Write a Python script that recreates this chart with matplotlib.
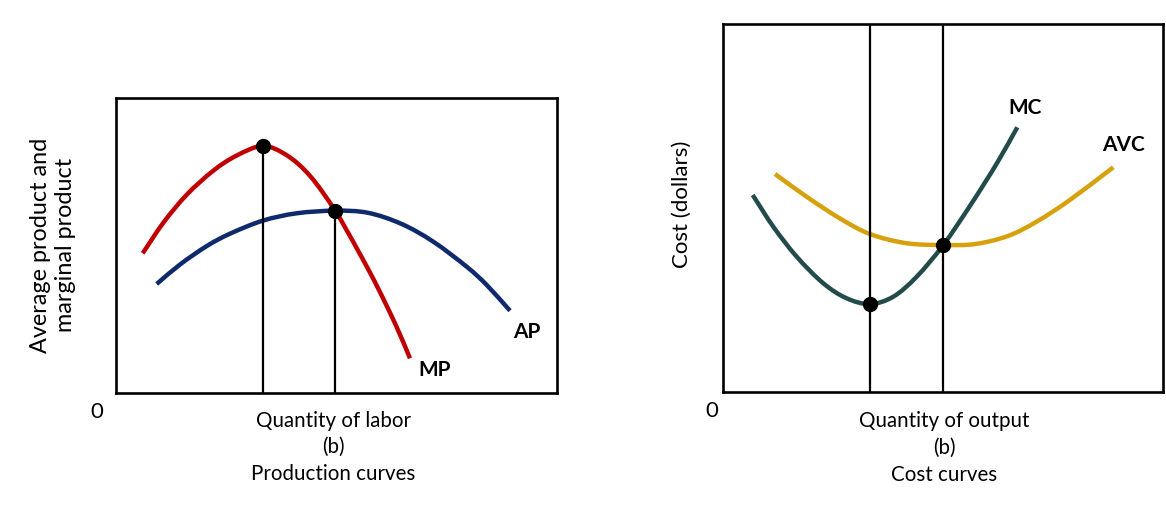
import matplotlib.pyplot as plt
from matplotlib.path import Path
from matplotlib.patches import PathPatch

# production curves (left panel), units: 0-100 along each box side
mp_x = [6.05, 10.73, 16.03, 22.06, 27.37, 33.27, 38.71, 43.99, 49.66, 54.88, 59.12, 63.49, 66.67]
mp_y = [47.36, 57.70, 67.20, 75.35, 80.50, 83.73, 80.60, 73.60, 61.86, 48.29, 36.42, 22.87, 11.74]
ap_x = [9.23, 14.51, 20.57, 25.85, 33.27, 40.98, 49.66, 57.14, 64.78, 71.95, 79.52, 84.06, 89.34]
ap_y = [36.95, 43.55, 49.80, 54.00, 58.41, 60.92, 61.80, 61.08, 57.29, 51.29, 42.81, 36.61, 27.90]
prod_pts_x = [33.27, 49.66]
prod_pts_y = [83.73, 61.80]

# cost curves (right panel)
mc_x = [6.75, 11.43, 16.75, 22.80, 28.11, 33.41, 38.70, 44.02, 50.07, 56.36, 62.20, 66.89]
mc_y = [53.53, 44.92, 36.77, 29.54, 25.46, 23.91, 25.90, 31.33, 39.95, 51.00, 62.06, 71.93]
avc_x = [11.82, 19.02, 26.59, 33.41, 41.75, 50.07, 57.27, 64.77, 71.30, 78.86, 88.70]
avc_y = [59.24, 53.05, 47.15, 42.92, 40.42, 39.95, 40.20, 42.40, 46.30, 52.20, 61.06]
cost_pts_x = [33.41, 50.07]
cost_pts_y = [23.91, 39.95]

plt.rcParams['font.family'] = ['Lato', 'DejaVu Sans']

W, H = 1166, 519
fig = plt.figure(figsize=(W / 100, H / 100), dpi=100)

def box(x0, y0, x1, y1):
    return [x0 / W, 1 - y1 / H, (x1 - x0) / W, (y1 - y0) / H]

def smooth(ax, xs, ys, color):
    # catmull-rom through the read points, drawn as bezier path
    pts = list(zip(xs, ys))
    n = len(pts)
    first = (2 * pts[0][0] - pts[1][0], 2 * pts[0][1] - pts[1][1])
    last = (2 * pts[-1][0] - pts[-2][0], 2 * pts[-1][1] - pts[-2][1])
    ext = [first] + pts + [last]
    verts = [pts[0]]
    codes = [Path.MOVETO]
    for i in range(1, n):
        p0, p1, p2, p3 = ext[i - 1], ext[i], ext[i + 1], ext[i + 2]
        c1 = (p1[0] + (p2[0] - p0[0]) / 6, p1[1] + (p2[1] - p0[1]) / 6)
        c2 = (p2[0] - (p3[0] - p1[0]) / 6, p2[1] - (p3[1] - p1[1]) / 6)
        verts += [c1, c2, p2]
        codes += [Path.CURVE4] * 3
    ax.add_patch(PathPatch(Path(verts, codes), fill=False, edgecolor=color,
                           lw=3.2, capstyle='butt'))

ax1 = fig.add_axes(box(116, 98, 557, 393))
ax2 = fig.add_axes(box(723, 24, 1163, 392))

for ax in (ax1, ax2):
    ax.set_xlim(0, 100)
    ax.set_ylim(0, 100)
    ax.set_xticks([])
    ax.set_yticks([])
    for s in ax.spines.values():
        s.set_linewidth(1.9)

# left
smooth(ax1, mp_x, mp_y, '#C00000')
smooth(ax1, ap_x, ap_y, '#0E2A6B')
ax1.vlines(prod_pts_x, 0, prod_pts_y, color='black', lw=1.6)
ax1.plot(prod_pts_x, prod_pts_y, 'o', color='black', ms=10)
ax1.text(72.3, 7.8, 'MP', fontsize=15, fontweight='bold', ha='center', va='center')
ax1.text(93.2, 20.7, 'AP', fontsize=15, fontweight='bold', ha='center', va='center')

# right
smooth(ax2, avc_x, avc_y, '#D6A10C')
smooth(ax2, mc_x, mc_y, '#234B4B')
ax2.vlines(cost_pts_x, 0, 100, color='black', lw=1.6)
ax2.plot(cost_pts_x, cost_pts_y, 'o', color='black', ms=10)
ax2.text(68.6, 77.1, 'MC', fontsize=15, fontweight='bold', ha='center', va='center')
ax2.text(91.1, 67.1, 'AVC', fontsize=15, fontweight='bold', ha='center', va='center')

def ftext(x, y, s, **kw):
    fig.text(x / W, 1 - y / H, s, ha='center', va='center', **kw)

ftext(53, 245, 'Average product and\nmarginal product', fontsize=16.8, rotation=90,
      linespacing=1.25)
ftext(97, 412, '0', fontsize=16)
ftext(333, 421, 'Quantity of labor', fontsize=14.8)
ftext(333, 447, '(b)', fontsize=14.8)
ftext(333, 474, 'Production curves', fontsize=14.8)

ftext(682, 204, 'Cost (dollars)', fontsize=16, rotation=90)
ftext(712, 411, '0', fontsize=16)
ftext(944, 421, 'Quantity of output', fontsize=14.8)
ftext(944, 448, '(b)', fontsize=14.8)
ftext(944, 475, 'Cost curves', fontsize=14.8)

fig.savefig('out.png', dpi=100)
